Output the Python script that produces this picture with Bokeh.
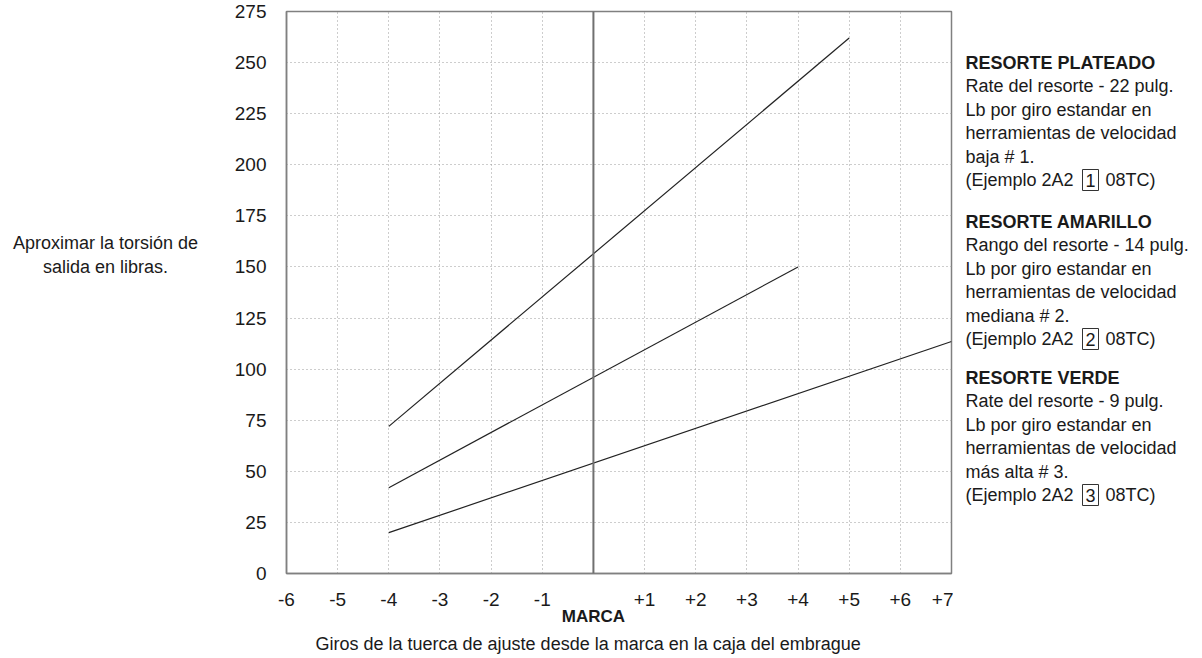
from bokeh.plotting import figure
from bokeh.models import Range1d, FixedTicker, Span, LinearAxis, Title
from bokeh.layouts import row
from bokeh.core.properties import value
from bokeh.embed import file_html
from bokeh.resources import INLINE

# ---- data ----
x_ticks = [-6, -5, -4, -3, -2, -1, 0, 1, 2, 3, 4, 5, 6, 7]
y_ticks = [0, 25, 50, 75, 100, 125, 150, 175, 200, 225, 250, 275]

turns_silver = [-4, 5]
torque_silver = [72, 262]
turns_yellow = [-4, 4]
torque_yellow = [42, 150]
turns_green = [-4, 7]
torque_green = [20, 113.5]

block_silver = ["RESORTE PLATEADO", "Rate del resorte - 22 pulg.", "Lb por giro estandar en",
                "herramientas de velocidad", "baja # 1."]
block_yellow = ["RESORTE AMARILLO", "Rango del resorte - 14 pulg.", "Lb por giro estandar en",
                "herramientas de velocidad", "mediana # 2."]
block_green = ["RESORTE VERDE", "Rate del resorte - 9 pulg.", "Lb por giro estandar en",
               "herramientas de velocidad", "más alta # 3."]
block_codes = ["1", "2", "3"]
y_title = ["Aproximar la torsión de", "salida en libras."]
x_title = "Giros de la tuerca de ajuste desde la marca en la caja del embrague"
mark_label = "MARCA"

FONT = "Liberation Sans"
TXT = "#1a1a1a"

H = 656
LEFT_W = 230
ML, MR, MT, MB = 56, 2, 11, 83
FW = 665
MAIN_W = ML + FW + MR
RIGHT_W = 1200 - LEFT_W - MAIN_W
FRAME_TOP, FRAME_BOTTOM = MT, H - MB   # page pixel rows of the plot frame

# ---------------- main plot ----------------
p = figure(width=MAIN_W, height=H, output_backend="svg", toolbar_location=None,
           x_range=Range1d(-6, 7), y_range=Range1d(0, 275),
           min_border_left=ML, min_border_right=MR, min_border_top=MT, min_border_bottom=MB)
p.outline_line_color = "#808080"
p.outline_line_width = 1.5

p.xaxis.ticker = FixedTicker(ticks=x_ticks)
p.yaxis.ticker = FixedTicker(ticks=y_ticks)
p.xaxis.major_label_overrides = {t: ("" if t == 0 else (f"+{t}" if t > 0 else str(t))) for t in x_ticks}
for ax in (p.xaxis[0], p.yaxis[0]):
    ax.axis_line_color = "#808080"
    ax.axis_line_width = 1.5
    ax.major_tick_line_color = None
    ax.minor_tick_line_color = None
    ax.major_label_text_font = FONT
    ax.major_label_text_font_size = "19px"
    ax.major_label_text_color = TXT
p.xaxis.major_label_standoff = 13
p.yaxis.major_label_standoff = 14

# second axis: the "MARCA" mark under zero
mark_axis = LinearAxis(ticker=FixedTicker(ticks=[0]), major_label_overrides={0: mark_label},
                       axis_line_color=None, major_tick_line_color=None, minor_tick_line_color=None,
                       major_label_text_font=FONT, major_label_text_font_size="17px",
                       major_label_text_font_style="bold", major_label_text_color=TXT,
                       major_label_standoff=-8)
p.add_layout(mark_axis, "below")

p.add_layout(Title(text=x_title, align="left", offset=29, standoff=6, text_font=FONT,
                   text_font_size="18px", text_font_style="normal", text_color=TXT), "below")

p.xgrid.ticker = FixedTicker(ticks=[t for t in x_ticks[1:-1] if t != 0])
p.ygrid.ticker = FixedTicker(ticks=y_ticks[1:-1])
for g in (p.xgrid[0], p.ygrid[0]):
    g.grid_line_color = "#9a9a9a"
    g.grid_line_dash = "1 3"
    g.grid_line_width = 1

p.add_layout(Span(location=0, dimension="height", line_color="#707070", line_width=2))

for xs, ys in ((turns_silver, torque_silver), (turns_yellow, torque_yellow), (turns_green, torque_green)):
    p.line(xs, ys, line_color="#222222", line_width=1.2)

# ---------------- side panels (frames align with the main frame; page-pixel coordinates) ----------------
def text_panel(w, x0):
    f = figure(width=w, height=H, output_backend="svg", toolbar_location=None,
               x_range=Range1d(x0, x0 + w), y_range=Range1d(FRAME_BOTTOM, FRAME_TOP),
               x_axis_type=None, y_axis_type=None,
               min_border_left=0, min_border_right=0, min_border_top=MT, min_border_bottom=MB)
    f.outline_line_color = None
    f.grid.visible = False
    return f

left = text_panel(LEFT_W, 0)
left.text(x=[105, 105], y=[242.5, 266], text=y_title, text_font=value(FONT), text_font_size="18px",
          text_color=TXT, text_align="center", text_baseline="middle")

right = text_panel(RIGHT_W, LEFT_W + MAIN_W)
RX = 965
STEP = 23.5
for block, top, code in zip((block_silver, block_yellow, block_green), (62, 221, 377), block_codes):
    ys = [top + i * STEP for i in range(len(block))]
    right.text(x=[RX], y=[ys[0]], text=[block[0]], text_font=value(FONT), text_font_size="18px",
               text_font_style="bold", text_color=TXT, text_baseline="middle")
    right.text(x=[RX] * (len(block) - 1), y=ys[1:], text=block[1:], text_font=value(FONT),
               text_font_size="18px", text_color=TXT, text_baseline="middle")
    yy = top + 5 * STEP
    right.text(x=[RX], y=[yy], text=["(Ejemplo 2A2"], text_font=value(FONT), text_font_size="18px",
               text_color=TXT, text_baseline="middle")
    right.text(x=[1090], y=[yy], text=[code], text_font=value(FONT), text_font_size="18px",
               text_color=TXT, text_baseline="middle", text_align="center")
    right.rect(x=[1090], y=[yy], width=16, height=21, fill_color=None, line_color="#333333", line_width=1)
    right.text(x=[1105], y=[yy], text=["08TC)"], text_font=value(FONT),
               text_font_size="18px", text_color=TXT, text_baseline="middle")

layout = row(left, p, right)
open("out.html", "w").write(file_html(layout, INLINE))
